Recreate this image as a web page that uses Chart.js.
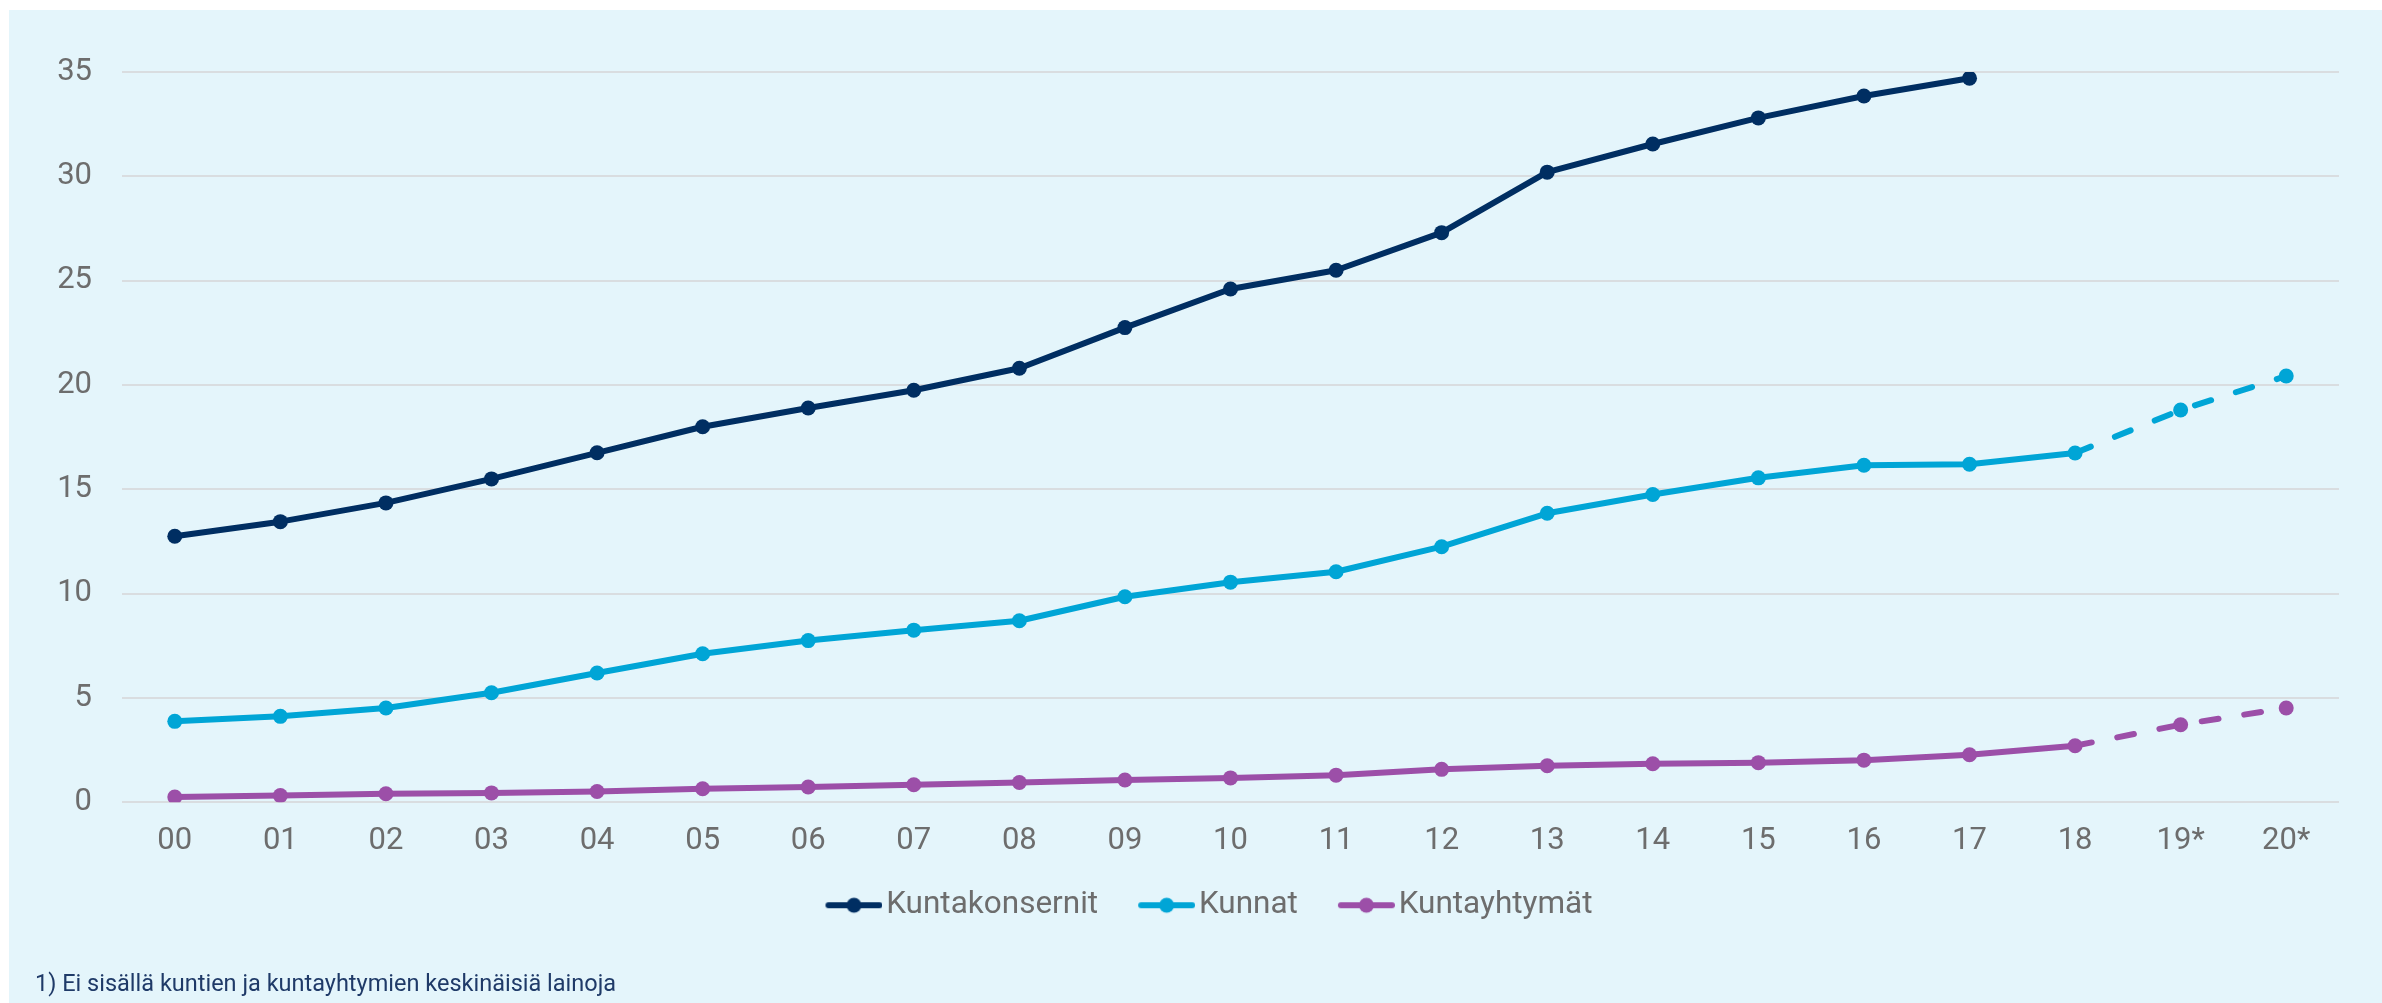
<!DOCTYPE html>
<html><head><meta charset="utf-8">
<script src="https://cdn.jsdelivr.net/npm/chart.js@4.4.0/dist/chart.umd.min.js"></script>
<style>
html,body{margin:0;padding:0;background:#fff;width:2382px;height:1003px;overflow:hidden}
#box{position:absolute;left:9px;top:10px;width:2373px;height:993px;background:#e4f5fb}
#c{position:absolute;left:0;top:0;width:2373px;height:993px}
#note{position:absolute;left:26px;top:960px;font-family:Roboto;font-size:23.5px;line-height:26px;color:#1f3a68;white-space:nowrap}
</style></head><body>
<div id="box"><canvas id="c" width="2373" height="993"></canvas><div id="note">1) Ei sisällä kuntien ja kuntayhtymien keskinäisiä lainoja</div></div>
<script>
const years = ['00','01','02','03','04','05','06','07','08','09','10','11','12','13','14','15','16','17','18','19*','20*'];
const kuntakonsernit = [12.75,13.45,14.35,15.5,16.75,18.0,18.9,19.75,20.8,22.75,24.6,25.5,27.3,30.2,31.55,32.8,33.85,34.7,null,null,null];
const kunnat = [3.88,4.12,4.52,5.25,6.2,7.12,7.75,8.25,8.7,9.85,10.55,11.05,12.25,13.85,14.75,15.55,16.15,16.2,16.74,18.8,20.43];
const kuntayhtymat = [0.25,0.32,0.41,0.45,0.52,0.65,0.73,0.84,0.95,1.07,1.17,1.3,1.58,1.75,1.85,1.9,2.02,2.28,2.71,3.72,4.52];
const yTicks = [0,5,10,15,20,25,30,35];
const seriesNames = ['Kuntakonsernit','Kunnat','Kuntayhtymät'];
const colors = ['#002e62','#00a5d6','#9c4fa8'];
const forecastFrom = 18;

const L = 42, LINE = 57, IW = L + LINE, W = IW - 24;
function markerImage(color){
  const cv = document.createElement('canvas');
  cv.width = IW; cv.height = 18;
  const g = cv.getContext('2d');
  g.strokeStyle = color; g.lineWidth = 6; g.lineCap = 'round';
  g.beginPath(); g.moveTo(L + 3, 9); g.lineTo(IW - 3, 9); g.stroke();
  g.fillStyle = color; g.beginPath(); g.arc(L + LINE/2, 9, 7.5, 0, Math.PI*2); g.fill();
  return cv;
}
const markers = colors.map(markerImage);

function mk(i, data){
  return {
    label: seriesNames[i], data: data,
    borderColor: colors[i], backgroundColor: colors[i],
    pointBackgroundColor: colors[i], pointBorderColor: colors[i],
    borderWidth: 6, pointRadius: 7.5, pointBorderWidth: 0, pointHoverRadius: 7.5,
    borderCapStyle: 'round', borderJoinStyle: 'round',
    tension: 0, spanGaps: false,
    segment: { borderDash: ctx => ctx.p0DataIndex >= forecastFrom ? [17, 26] : undefined }
  };
}

const legendShift = {
  id: 'legendShift',
  afterLayout(chart){ const lg = chart.legend; if (lg) { lg.left += 20; lg.right += 20; } }
};

new Chart(document.getElementById('c'), {
  type: 'line',
  data: { labels: years, datasets: [mk(0, kuntakonsernit), mk(1, kunnat), mk(2, kuntayhtymat)] },
  plugins: [legendShift],
  options: {
    responsive: false, animation: false, devicePixelRatio: 1,
    layout: { padding: { left: 0, right: 43, top: 62, bottom: 72 } },
    scales: {
      x: {
        offset: true,
        grid: { display: false, drawTicks: false },
        border: { display: false },
        ticks: { font: { family: 'Roboto', size: 31 }, color: '#6d6d6d', padding: 20, maxRotation: 0, autoSkip: false }
      },
      y: {
        min: 0, max: 35,
        afterBuildTicks: s => { s.ticks = yTicks.map(v => ({ value: v })); },
        afterFit: s => { s.width = 113; },
        grid: { color: '#d9dde0', lineWidth: 2, drawTicks: false },
        border: { display: false },
        ticks: { font: { family: 'Roboto', size: 31 }, color: '#6d6d6d', padding: 30 }
      }
    },
    plugins: {
      tooltip: { enabled: false },
      legend: {
        position: 'bottom',
        labels: {
          usePointStyle: true, pointStyleWidth: W, padding: 10,
          font: { family: 'Roboto', size: 31.5 }, color: '#6d6d6d',
          generateLabels: chart => Chart.defaults.plugins.legend.labels.generateLabels(chart).map((l, i) => Object.assign(l, { pointStyle: markers[i], lineWidth: 0 }))
        }
      }
    }
  }
});
</script>
</body></html>
